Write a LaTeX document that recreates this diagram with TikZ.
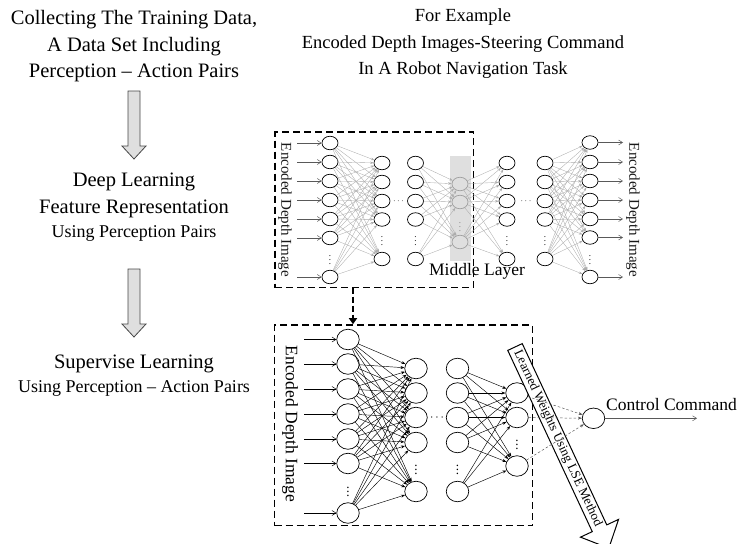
\documentclass[tikz,border=0pt]{standalone}
\usepackage{fontspec}
\setmainfont{Liberation Serif}
\usetikzlibrary{arrows.meta,shapes.geometric}

\begin{document}
\begin{tikzpicture}[x=1pt,y=-1pt,
  neu/.style={ellipse,draw,line width=0.7pt,inner sep=0pt,minimum width=16pt,minimum height=13.5pt},
  neuL/.style={ellipse,draw,line width=0.7pt,inner sep=0pt,minimum width=22.5pt,minimum height=20.5pt},
  midneu/.style={neu,draw=gray!75},
  conU/.style={gray!65,line width=0.35pt,-{Stealth[length=3.5pt,width=2.5pt]}},
  conL/.style={black,line width=0.45pt,-{Stealth[length=4pt,width=3pt]}},
  inarr/.style={line width=0.5pt,-{Straight Barb[length=4pt,width=5pt]}},
  dbox/.style={draw,line width=1.6pt,dash pattern=on 7pt off 4pt,inner sep=0pt},
  flowarrow/.style={draw=gray!55!black,fill=gray!25,line width=0.8pt,line join=miter},
  big/.style={font=\fontsize{20.5}{26.5}\selectfont,align=center,inner sep=0pt},
  small/.style={font=\fontsize{18.5}{26.5}\selectfont,align=center,inner sep=0pt},
  dotsU/.style={font=\fontsize{9}{9}\selectfont,inner sep=0pt},
  dotsL/.style={font=\fontsize{13}{13}\selectfont,inner sep=0pt}
]
\useasboundingbox (0,0) rectangle (737,544);

% ---------------- left column: the three stages ----------------
\node[big] (collect) at (134,46.5) {Collecting The Training Data,\\A Data Set Including\\Perception -- Action Pairs};
\node[small] (example) at (463,44) {For Example\\Encoded Depth Images-Steering Command\\In A Robot Navigation Task};

\node[big] (deep) at (134,195.5) {Deep Learning\\Feature Representation};
\node[font=\fontsize{18}{20}\selectfont,inner sep=0pt] (deepuse) at (134,233) {Using Perception Pairs};
\node[font=\fontsize{20.5}{24}\selectfont,inner sep=0pt] (sup) at (134,364) {Supervise Learning};
\node[font=\fontsize{18}{20}\selectfont,inner sep=0pt] (supuse) at (134,388) {Using Perception -- Action Pairs};

\foreach \t in {91,269}
  \draw[flowarrow] (128,\t) -- (140,\t) -- (140,\t+55) -- (146,\t+55) -- (134,\t+68)
        -- (122,\t+55) -- (128,\t+55) -- cycle;

% ---------------- upper network (auto-encoder) ----------------
\node[fill=gray!25,minimum width=21pt,minimum height=105pt,inner sep=0pt] (midband) at (460.5,208.5) {};
\node[dbox,minimum width=198.5pt,minimum height=155.5pt] (upbox) at (374.25,209.75) {};

\foreach \y [count=\i] in {143,162,181,200,219,238,277}{
  \node[neu] (u1-\i) at (330,\y) {};
  \coordinate (ui-\i) at (297,\y);
  \draw[inarr,gray!70!black] (ui-\i) -- (u1-\i);
}
\foreach \y [count=\i] in {163,182,201,219.5,259}{
  \node[neu] (u2-\i) at (382,\y) {};
  \node[neu] (u3-\i) at (415.5,\y) {};
  \node[neu] (u4-\i) at (507,\y) {};
  \node[neu] (u5-\i) at (545,\y) {};
}
\foreach \y [count=\i] in {184,202,242}
  \node[midneu] (um-\i) at (460,\y) {};
\foreach \y [count=\i] in {142.5,162,181,200,219,237.5,277}{
  \node[neu] (u6-\i) at (590,\y) {};
  \coordinate (uo-\i) at (623,\y);
  \draw[inarr,gray!70!black] (u6-\i) -- (uo-\i);
}
\foreach \i in {1,...,7}
  \foreach \j in {1,...,5}{
    \draw[conU] (u1-\i) -- (u2-\j);
    \draw[conU] (u5-\j) -- (u6-\i);
  }
\foreach \i in {1,...,5}
  \foreach \j in {1,...,3}{
    \draw[conU] (u3-\i) -- (um-\j);
    \draw[conU] (um-\j) -- (u4-\i);
  }

\node[dotsU] (ud1) at (330,257) {$\vdots$};
\node[dotsU] (ud2) at (382,238) {$\vdots$};
\node[dotsU] (ud3) at (415.5,238) {$\vdots$};
\node[dotsU,gray] (ud4) at (460,224) {$\vdots$};
\node[dotsU] (ud5) at (507,238) {$\vdots$};
\node[dotsU] (ud6) at (545,238) {$\vdots$};
\node[dotsU] (ud7) at (590,257) {$\vdots$};
\node[dotsU] (uh1) at (398.5,201) {$\cdots$};
\node[dotsU] (uh2) at (526,201) {$\cdots$};

\node[rotate=-90,font=\fontsize{15}{15}\selectfont,text=gray!20!black] (encin) at (285,210) {Encoded Depth Image};
\node[rotate=-90,font=\fontsize{15}{15}\selectfont,text=gray!20!black] (encout) at (633,210) {Encoded Depth Image};
\node[font=\fontsize{17.5}{17.5}\selectfont,inner sep=0pt] (midlabel) at (477,271) {Middle Layer};

% ---------------- lower network (supervised part) ----------------
\node[dbox,minimum width=258pt,minimum height=200.5pt] (lowbox) at (403.5,425.25) {};
\coordinate (dtop) at (353,287.5);
\draw[line width=1.8pt,dash pattern=on 6pt off 3pt,-{Triangle[length=6pt,width=8pt]}]
  (dtop) -- (lowbox.north -| dtop);

\foreach \y [count=\i] in {339.5,364,389,414,439,463.5,513}{
  \node[neuL] (l1-\i) at (348,\y) {};
  \coordinate (li-\i) at (304,\y);
  \draw[inarr] (li-\i) -- (l1-\i);
}
\foreach \y [count=\i] in {368.5,393,417.5,442.5,491.5}{
  \node[neuL] (l2-\i) at (416,\y) {};
  \node[neuL] (l3-\i) at (457.5,\y) {};
}
\foreach \y [count=\i] in {393,417.5,466}
  \node[neuL] (l4-\i) at (517,\y) {};
\foreach \i in {1,...,7}
  \foreach \j in {1,...,5}
    \draw[conL] (l1-\i) -- (l2-\j);
\foreach \i in {1,...,5}
  \foreach \j in {1,...,3}
    \draw[conL] (l3-\i) -- (l4-\j);

\node[dotsL] (ld1) at (348,489) {$\vdots$};
\node[dotsL] (ld2) at (416,467) {$\vdots$};
\node[dotsL] (ld3) at (457.5,467) {$\vdots$};
\node[dotsL] (ld4) at (517,442) {$\vdots$};
\node[dotsL] (lh1) at (437,417.5) {$\cdots$};

\node[rotate=-90,font=\fontsize{17.5}{17.5}\selectfont] (encsup) at (290,424) {Encoded Depth Image};

% learned-weights arrow
\begin{scope}[shift={(515,347)},rotate=-65]
  \draw[fill=white,line width=1pt,line join=miter] (0,8) -- (0,-8) -- (200,-8) -- (200,-21)
        -- (222,0) -- (200,21) -- (200,8) -- cycle;
  \node[rotate=-65,font=\fontsize{13}{13}\selectfont,inner sep=0pt] (lse) at (101,0) {Learned Weights Using LSE Method};
\end{scope}

\node[neuL] (fin) at (593.5,418.3) {};
\foreach \i in {1,2,3}
  \draw[gray!70!black,line width=0.5pt,dash pattern=on 2.5pt off 2pt,-{Stealth[length=4pt,width=3pt]}] (l4-\i) -- (fin);
\coordinate (cc) at (697,418.3);
\draw[inarr,gray!70!black] (fin) -- (cc);
\node[anchor=west,font=\fontsize{17.5}{17.5}\selectfont,inner sep=0pt] (ctrl) at (606,405) {Control Command};
\end{tikzpicture}
\end{document}
